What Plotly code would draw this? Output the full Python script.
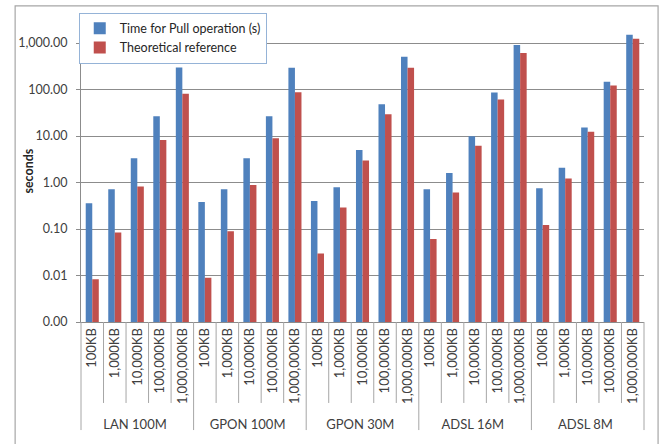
import plotly.graph_objects as go

# Network scenarios and transferred file sizes
networks = ["LAN 100M", "GPON 100M", "GPON 30M", "ADSL 16M", "ADSL 8M"]
sizes = ["100KB", "1,000KB", "10,000KB", "100,000KB", "1,000,000KB"]

# Measured pull time per network (seconds), one value per file size
pull_lan100 = [0.36, 0.72, 3.34, 26.8, 300]
pull_gpon100 = [0.38, 0.72, 3.34, 26.6, 294]
pull_gpon30 = [0.40, 0.79, 5.0, 48.6, 507]
pull_adsl16 = [0.72, 1.61, 9.95, 86.8, 906]
pull_adsl8 = [0.755, 2.07, 15.3, 147, 1510]

# Theoretical reference time per network (seconds)
theo_lan100 = [0.0083, 0.084, 0.82, 8.2, 81]
theo_gpon100 = [0.009, 0.09, 0.89, 9.0, 88]
theo_gpon30 = [0.0297, 0.29, 2.98, 29.6, 294]
theo_adsl16 = [0.061, 0.61, 6.15, 61.4, 609]
theo_adsl8 = [0.122, 1.22, 12.3, 123, 1238]

# Y axis ticks
y_tickvals = [0.001, 0.01, 0.1, 1, 10, 100, 1000]
y_ticktext = ["0.00", "0.01", "0.10", "1.00", "10.00", "100.00", "1,000.00"]

pull = pull_lan100 + pull_gpon100 + pull_gpon30 + pull_adsl16 + pull_adsl8
theo = theo_lan100 + theo_gpon100 + theo_gpon30 + theo_adsl16 + theo_adsl8
outer = [n for n in networks for _ in sizes]
inner = [s for _ in networks for s in sizes]

FONT = "Lato"
TXT = "#404040"
GRID = "#8C8C8C"

fig = go.Figure()
fig.add_trace(go.Bar(
    x=[outer, inner], y=pull, name="Time for Pull operation (s)",
    marker=dict(color="#4F81BD", line=dict(width=0)),
    legendgroup="a",
))
fig.add_trace(go.Bar(
    x=[outer, inner], y=theo, name="Theoretical reference",
    marker=dict(color="#C0504D", line=dict(width=0)),
    legendgroup="b",
))

n_cat = len(outer)
shapes = []
# separators between individual categories below the axis
for k in range(n_cat + 1):
    is_group = (k % len(sizes) == 0)
    shapes.append(dict(
        type="line", xref="paper", yref="paper",
        x0=k / n_cat, x1=k / n_cat, y0=0,
        y1=-0.359 if is_group else -0.269,
        line=dict(color="#A6A6A6", width=1),
    ))
# chart frame
shapes.append(dict(
    type="rect", xref="paper", yref="paper",
    x0=-0.117, x1=1.025, y0=-0.45, y1=1.05,
    line=dict(color="#A6A6A6", width=1.2), fillcolor="rgba(0,0,0,0)",
    layer="below",
))

fig.update_layout(
    width=659, height=444,
    margin=dict(l=81, r=15, t=21, b=122),
    paper_bgcolor="white", plot_bgcolor="white",
    font=dict(family=FONT, size=13, color=TXT),
    barmode="group", bargap=0.42, bargroupgap=0,
    showlegend=True,
    legend=dict(
        x=-0.004, y=1.028, xanchor="left", yanchor="top",
        bgcolor="white", bordercolor="#95B3D7", borderwidth=1,
        font=dict(family=FONT, size=12.5, color="#262626"),
        traceorder="grouped", tracegroupgap=0,
    ),
    shapes=shapes,
    annotations=[dict(
        text="<b>seconds</b>", xref="paper", yref="paper",
        x=-0.094, y=0.5, xanchor="center", yanchor="middle",
        textangle=-90, showarrow=False,
        font=dict(family=FONT, size=12.5, color="#262626"),
    )],
)
fig.update_yaxes(
    type="log", range=[-3, 3.475],
    tickvals=y_tickvals, ticktext=y_ticktext,
    showgrid=True, gridcolor=GRID, gridwidth=1.3,
    showline=True, linecolor=GRID, linewidth=1,
    ticks="outside", ticklen=4, tickcolor=GRID,
    ticklabelstandoff=6,
    tickfont=dict(family=FONT, size=12.5, color=TXT),
    zeroline=False,
)
fig.update_xaxes(
    type="multicategory",
    showline=True, linecolor=GRID, linewidth=1,
    ticks="", showdividers=False,
    tickangle=-90,
    tickfont=dict(family=FONT, size=13, color=TXT),
)

fig.write_html("out.html")
